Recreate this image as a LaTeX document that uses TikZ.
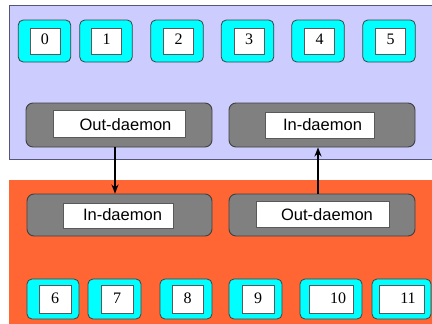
\documentclass[tikz,border=0pt]{standalone}
\usepackage{fontspec}
\setmainfont{Liberation Serif}
\newfontfamily\arialfont{Liberation Sans}
\usetikzlibrary{arrows.meta}
\definecolor{lavender}{HTML}{CCCCFF}
\definecolor{panelline}{HTML}{55557A}
\definecolor{hostorange}{HTML}{FF6633}
\definecolor{procfill}{HTML}{00FFFF}
\definecolor{daemonfill}{HTML}{808080}
\definecolor{edgegray}{HTML}{404040}
\tikzset{
  procbox/.style={draw=edgegray, line width=0.8pt, fill=procfill, rounded corners=5pt,
    minimum height=42pt, inner sep=0pt},
  daemonbox/.style={draw=edgegray, line width=0.9pt, fill=daemonfill, rounded corners=7pt,
    minimum width=186pt, minimum height=44pt, inner sep=0pt},
  whitebox/.style={draw=black!65, line width=0.8pt, fill=white, inner sep=0pt},
  numtext/.style={anchor=base, inner sep=0pt, font=\fontsize{16}{18}\selectfont},
  daemontext/.style={anchor=base, inner sep=0pt, font=\arialfont\fontsize{16.5}{19}\selectfont},
  msgarrow/.style={line width=1.6pt, -{Stealth[length=9pt,width=7pt]}},
}
\begin{document}
\begin{tikzpicture}[x=1pt,y=-1pt]
\useasboundingbox (0,0) rectangle (432,324);
% upper host
\fill[lavender] (9,5) rectangle (433,159);
\draw[panelline, line width=1pt] (433,5) -- (9,5) -- (9,159) -- (433,159);
% lower host
\fill[hostorange] (9,180) rectangle (433,325);

% processes of the upper host
\foreach \n/\cx/\wx in {0/44.5/45, 1/106/106.5, 2/177/178.5, 3/247.5/249, 4/318/319.5, 5/389/390.5}{
  \node[procbox, minimum width=52.5pt] (p\n) at (\cx,41) {};
  \node[whitebox, minimum width=30pt, minimum height=26pt] (w\n) at (\wx,41) {};
  \node[numtext] (t\n) at (\wx,45) {\n};
}
% processes of the lower host
\foreach \n/\cx/\pw/\wx/\ww/\tx in {6/53/52/55/32/55, 7/114.5/53/117/32/117, 8/186/52/187.5/31/187.5,
    9/255.5/53/258/32/258, 10/331/62/331/44/338, 11/401.5/59/401.5/45/408}{
  \node[procbox, minimum width=\pw pt, minimum height=40pt] (p\n) at (\cx,299) {};
  \node[whitebox, minimum width=\ww pt, minimum height=28pt] (w\n) at (\wx,299) {};
  \node[numtext] (t\n) at (\tx,303) {\n};
}

% daemons of the upper host
\node[daemonbox] (outA) at (119,125) {};
\node[whitebox, minimum width=132pt, minimum height=27pt] (outAw) at (119,123.5) {};
\node[daemontext] (outAt) at (125.5,130) {Out-daemon};
\node[daemonbox] (inA) at (322,125) {};
\node[whitebox, minimum width=109pt, minimum height=26pt] (inAw) at (319.5,125) {};
\node[daemontext] (inAt) at (322.5,130.5) {In-daemon};

% daemons of the lower host
\node[daemonbox, minimum width=185pt, minimum height=42pt] (inB) at (119.5,215) {};
\node[whitebox, minimum width=110pt, minimum height=25pt] (inBw) at (118,215.5) {};
\node[daemontext] (inBt) at (122.5,220) {In-daemon};
\node[daemonbox, minimum height=42pt] (outB) at (322,215) {};
\node[whitebox, minimum width=133pt, minimum height=26pt] (outBw) at (322.5,214) {};
\node[daemontext] (outBt) at (327,220) {Out-daemon};

% messages between the hosts
\draw[msgarrow] ([xshift=-4pt]outA.south) -- ([xshift=-4.5pt]inB.north);
\draw[msgarrow] ([xshift=-4pt]outB.north) -- ([xshift=-4pt]inA.south);
\end{tikzpicture}
\end{document}
